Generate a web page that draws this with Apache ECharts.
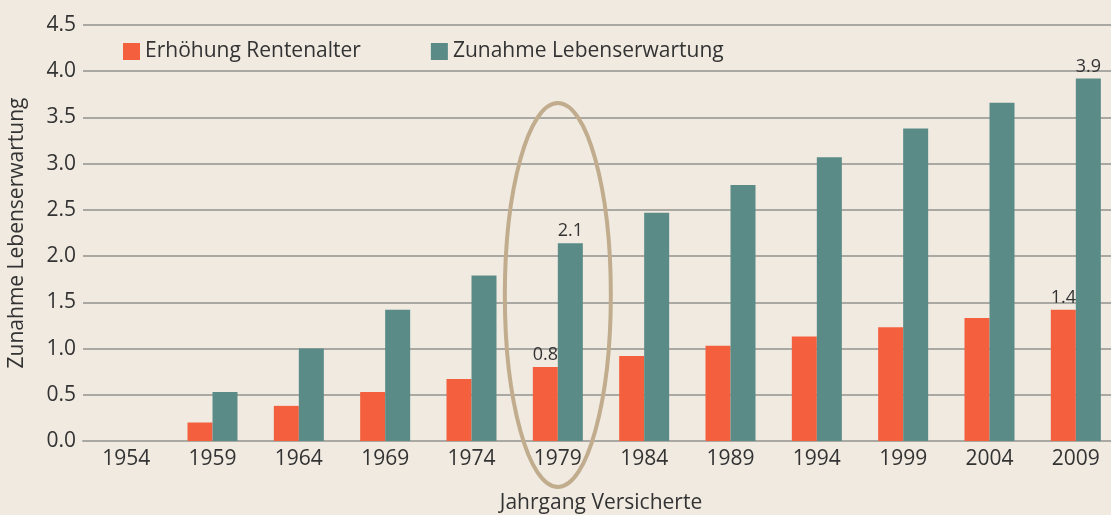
<!DOCTYPE html>
<html lang="de">
<head>
	<meta charset="utf-8">
	<title>Rentenalter und Lebenserwartung</title>
	<script src="https://cdn.jsdelivr.net/npm/echarts@6/dist/echarts.min.js"></script>
	<style>
		html, body { margin: 0; padding: 0; background: #f0eae1; }
		#chart { width: 1111px; height: 515px; }
	</style>
</head>
<body>
<div id="chart"></div>
<script>
    // Daten
    var jahrgaenge = ['1954', '1959', '1964', '1969', '1974', '1979', '1984', '1989', '1994', '1999', '2004', '2009'];
    var rentenalter = [0, 0.2, 0.38, 0.53, 0.67, 0.8, 0.92, 1.03, 1.13, 1.23, 1.33, 1.42];
    var lebenserwartung = [0, 0.53, 1.0, 1.42, 1.79, 2.14, 2.47, 2.77, 3.07, 3.38, 3.66, 3.92];
    // Balken mit Wertangabe
    var beschriftet = ['1979', '2009'];

    var schrift = '"Open Sans", "DejaVu Sans", sans-serif';

    function mitLabels(werte) {
        return werte.map(function (v, i) {
            if (beschriftet.indexOf(jahrgaenge[i]) >= 0) {
                return { value: v, label: { show: true } };
            }
            return v;
        });
    }

    var myChart = echarts.init(document.getElementById('chart'));
    var option = {
        backgroundColor: '#f0eae1',
        textStyle: { fontFamily: schrift, color: '#333' },
        legend: {
            left: 118,
            top: 36,
            itemWidth: 17,
            itemHeight: 17,
            itemGap: 70,
            icon: 'rect',
            textStyle: { fontSize: 21, color: '#333', fontFamily: schrift },
            data: ['Erhöhung Rentenalter', 'Zunahme Lebenserwartung']
        },
        grid: { left: 83, right: -8, top: 25, bottom: 74, outerBoundsMode: 'none', containLabel: false },
        xAxis: {
            type: 'category',
            data: jahrgaenge,
            name: 'Jahrgang Versicherte',
            nameLocation: 'middle',
            nameGap: 52,
            nameTextStyle: { fontSize: 21, color: '#333' },
            axisLine: { lineStyle: { color: '#a9a8a3', width: 2 } },
            axisTick: { show: false },
            axisLabel: { fontSize: 21, color: '#333', margin: 8 }
        },
        yAxis: {
            type: 'value',
            min: 0,
            max: 4.5,
            interval: 0.5,
            name: 'Zunahme Lebenserwartung',
            nameLocation: 'middle',
            nameGap: 55,
            nameTextStyle: { fontSize: 21, color: '#333' },
            axisLine: { show: false },
            axisTick: { show: false },
            axisLabel: {
                fontSize: 21, color: '#333', margin: 7,
                formatter: function (v) { return v.toFixed(1); }
            },
            splitLine: { lineStyle: { color: '#a9a8a3', width: 2 } }
        },
        series: [{
            name: 'Erhöhung Rentenalter',
            type: 'bar',
            barWidth: 25,
            barGap: '0%',
            itemStyle: { color: '#f45f3e' },
            label: {
                show: false, position: 'top', fontSize: 18, color: '#333', distance: 3,
                formatter: function (p) { return p.value.toFixed(1); }
            },
            data: mitLabels(rentenalter)
        }, {
            name: 'Zunahme Lebenserwartung',
            type: 'bar',
            barWidth: 25,
            barGap: '0%',
            itemStyle: { color: '#5a8b87' },
            label: {
                show: false, position: 'top', fontSize: 18, color: '#333', distance: 3,
                formatter: function (p) { return p.value.toFixed(1); }
            },
            data: mitLabels(lebenserwartung)
        }]
    };
    myChart.setOption(option);

    // Ellipse um den Jahrgang 1979
    var mitte = myChart.convertToPixel({ xAxisIndex: 0 }, '1979');
    myChart.setOption({
        graphic: [{
            type: 'ellipse',
            shape: { cx: mitte, cy: 295, rx: 53, ry: 192 },
            style: { fill: 'none', stroke: '#c1ad8e', lineWidth: 4 },
            z: 10
        }]
    });
</script>
</body>
</html>
